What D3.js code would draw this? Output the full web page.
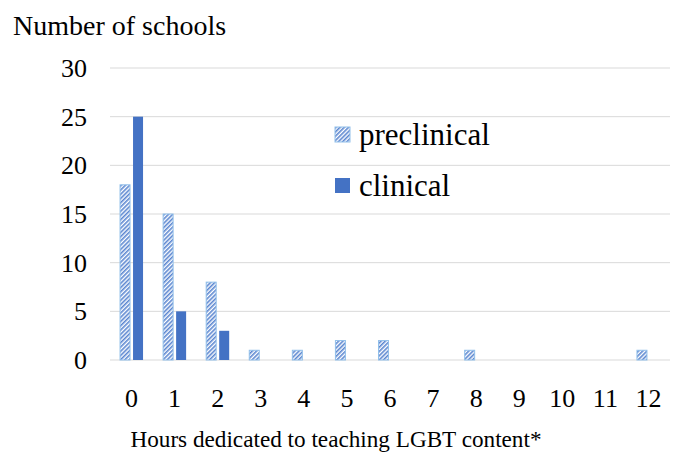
<!DOCTYPE html>
<html>
<head>
<meta charset="utf-8">
<script src="https://cdn.jsdelivr.net/npm/d3@7"></script>
<style>
  body { margin: 0; background: #fff; }
</style>
</head>
<body>
<div id="chart"></div>
<script>
// data
var hours = ["0","1","2","3","4","5","6","7","8","9","10","11","12"];
var preclinical = [18,15,8,1,1,2,2,0,1,0,0,0,1];
var clinical = [25,5,3,0,0,0,0,0,0,0,0,0,0];
var yTicks = [0,5,10,15,20,25,30];
var seriesNames = ["preclinical","clinical"];

var FONT = "Liberation Serif";
var W = 681, H = 455;
var margin = {top: 68, right: 11, bottom: 95, left: 110},
    width = W - margin.left - margin.right,
    height = H - margin.top - margin.bottom;

var svg = d3.select("#chart")
    .append("svg")
    .attr("width", W)
    .attr("height", H);

// hatch pattern for preclinical
var defs = svg.append("defs");
var pat = defs.append("pattern")
    .attr("id", "hatch")
    .attr("patternUnits", "userSpaceOnUse")
    .attr("width", 3)
    .attr("height", 3)
    .attr("patternTransform", "rotate(45)");
pat.append("rect").attr("width", 3).attr("height", 3).attr("fill", "#ffffff");
pat.append("rect").attr("width", 1.6).attr("height", 3).attr("fill", "#5b86d0");

var g = svg.append("g")
    .attr("transform", "translate(" + margin.left + "," + margin.top + ")");

var x = d3.scaleBand().domain(hours).range([0, width]);
var y = d3.scaleLinear().domain([0, 30]).range([height, 0]);

// gridlines
g.selectAll(".grid")
    .data(yTicks).enter()
    .append("line")
    .attr("x1", 0).attr("x2", width)
    .attr("y1", d => y(d)).attr("y2", d => y(d))
    .attr("stroke", "#d9d9d9")
    .attr("stroke-width", 1);

// y tick labels
g.selectAll(".ylab")
    .data(yTicks).enter()
    .append("text")
    .attr("x", -23)
    .attr("y", d => y(d))
    .attr("dy", "0.35em")
    .attr("text-anchor", "end")
    .attr("font-family", FONT)
    .attr("font-size", 26)
    .text(d => d);

// x tick labels
g.selectAll(".xlab")
    .data(hours).enter()
    .append("text")
    .attr("x", d => x(d) + x.bandwidth() / 2)
    .attr("y", height + 38)
    .attr("dy", "0.35em")
    .attr("text-anchor", "middle")
    .attr("font-family", FONT)
    .attr("font-size", 26)
    .text(d => d);

var barW = 10, gap = 3;

// preclinical bars
g.selectAll(".pre")
    .data(preclinical.map((v, i) => ({h: hours[i], v: v})).filter(d => d.v > 0))
    .enter().append("rect")
    .attr("x", d => x(d.h) + x.bandwidth() / 2 - barW - gap / 2)
    .attr("y", d => y(d.v))
    .attr("width", barW)
    .attr("height", d => y(0) - y(d.v))
    .attr("fill", "url(#hatch)")
    .attr("stroke", "#92c0ea")
    .attr("stroke-width", 1);

// clinical bars
g.selectAll(".cli")
    .data(clinical.map((v, i) => ({h: hours[i], v: v})).filter(d => d.v > 0))
    .enter().append("rect")
    .attr("x", d => x(d.h) + x.bandwidth() / 2 + gap / 2)
    .attr("y", d => y(d.v))
    .attr("width", barW)
    .attr("height", d => y(0) - y(d.v))
    .attr("fill", "#4472c4");

// legend
var legend = svg.append("g").attr("transform", "translate(335,127)");
legend.selectAll("rect")
    .data(seriesNames).enter()
    .append("rect")
    .attr("x", 0)
    .attr("y", (d, i) => i * 51)
    .attr("width", 15)
    .attr("height", 15)
    .attr("fill", (d, i) => i === 0 ? "url(#hatch)" : "#4472c4")
    .attr("stroke", (d, i) => i === 0 ? "#92c0ea" : "none");
legend.selectAll("text")
    .data(seriesNames).enter()
    .append("text")
    .attr("x", 24)
    .attr("y", (d, i) => i * 51 + 18)
    .attr("font-family", FONT)
    .attr("font-size", 31)
    .text(d => d);

// axis titles
svg.append("text")
    .attr("x", 13)
    .attr("y", 35)
    .attr("font-family", FONT)
    .attr("font-size", 28)
    .text("Number of schools");

svg.append("text")
    .attr("x", 336)
    .attr("y", 447)
    .attr("text-anchor", "middle")
    .attr("font-family", FONT)
    .attr("font-size", 23.2)
    .text("Hours dedicated to teaching LGBT content*");
</script>
</body>
</html>
